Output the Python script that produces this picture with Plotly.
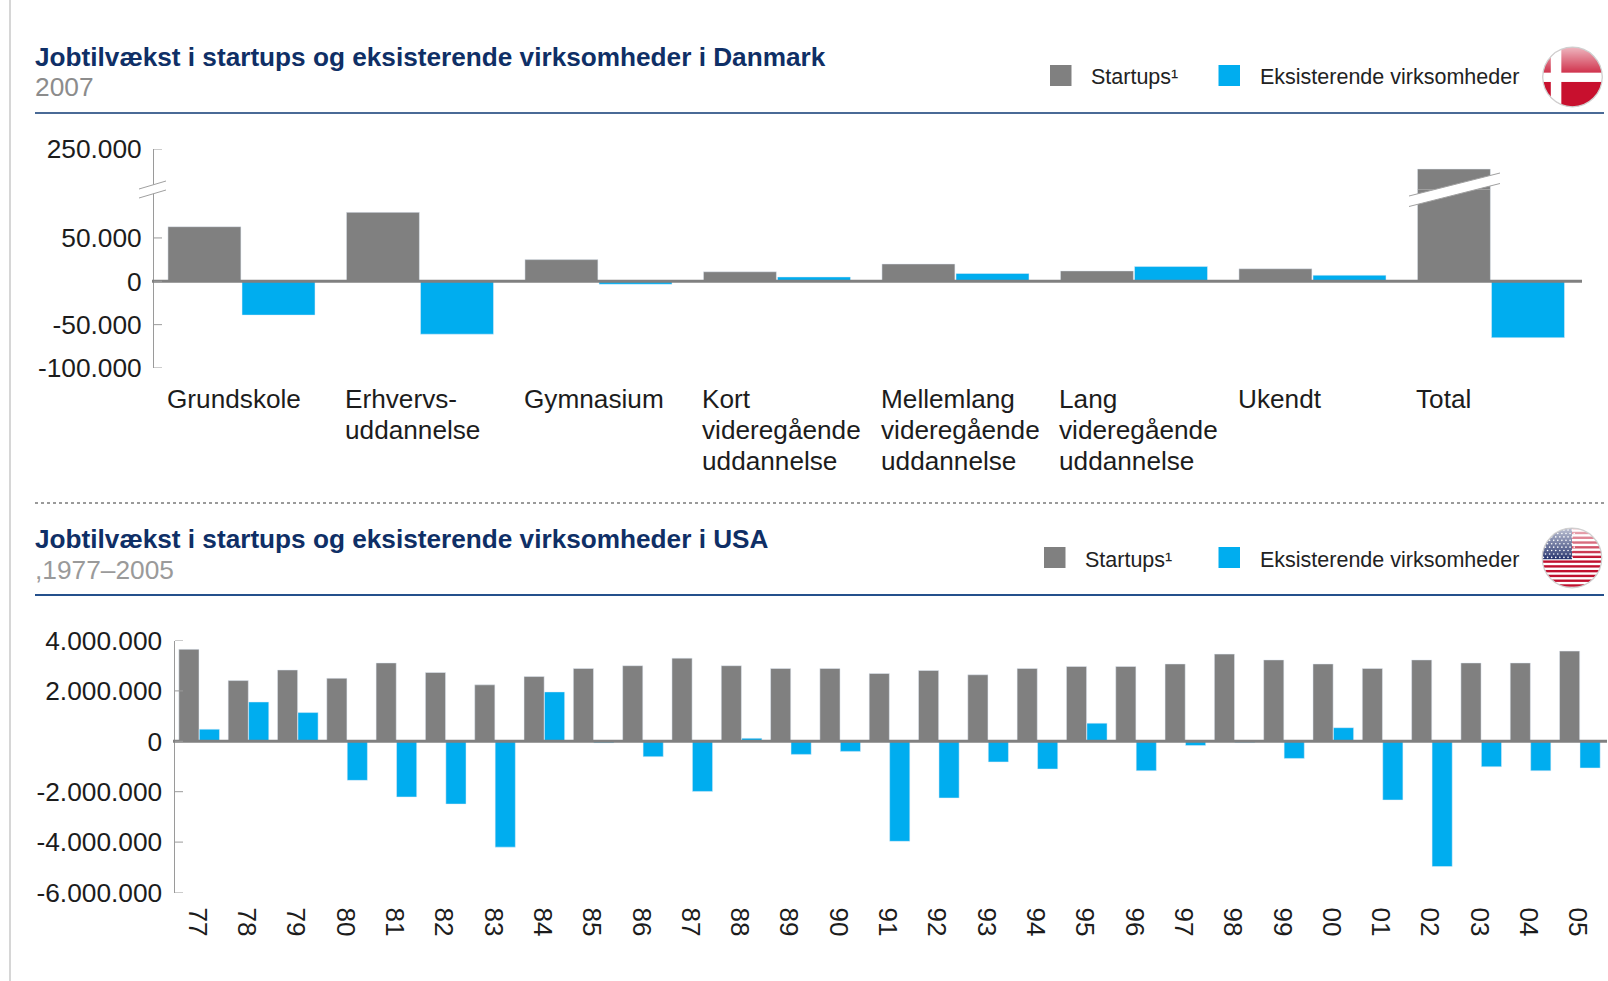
import base64
import plotly.graph_objects as go

# ---- data ----
dk_categories = ["Grundskole", "Erhvervs-", "Gymnasium", "Kort", "Mellemlang", "Lang", "Ukendt", "Total"]
dk_label_lines = [["Grundskole"], ["Erhvervs-", "uddannelse"], ["Gymnasium"],
                  ["Kort", "videregående", "uddannelse"], ["Mellemlang", "videregående", "uddannelse"],
                  ["Lang", "videregående", "uddannelse"], ["Ukendt"], ["Total"]]
dk_startups = [63000, 79500, 25000, 11000, 20000, 12000, 14500, 221000]
dk_existing = [-39000, -61000, -3500, 5000, 9000, 17000, 7000, -65000]
dk_low_ticks = [50000, 0, -50000, -100000]
dk_low_text = ["50.000", "0", "-50.000", "-100.000"]
dk_high_ticks = [250000]
dk_high_text = ["250.000"]

us_years = ["77", "78", "79", "80", "81", "82", "83", "84", "85", "86", "87", "88", "89", "90", "91",
            "92", "93", "94", "95", "96", "97", "98", "99", "00", "01", "02", "03", "04", "05"]
us_startups = [3650000, 2410000, 2830000, 2500000, 3110000, 2730000, 2240000, 2570000, 2890000, 3000000,
               3300000, 3000000, 2890000, 2890000, 2690000, 2810000, 2640000, 2890000, 2970000, 2970000,
               3070000, 3460000, 3230000, 3070000, 2890000, 3230000, 3110000, 3110000, 3580000]
us_existing = [480000, 1560000, 1140000, -1550000, -2210000, -2490000, -4200000, 1960000, -60000, -610000,
               -1990000, 120000, -520000, -400000, -3970000, -2250000, -820000, -1100000, 720000, -1170000,
               -170000, -50000, -680000, 540000, -2330000, -4970000, -1010000, -1170000, -1060000]
us_ticks = [4000000, 2000000, 0, -2000000, -4000000, -6000000]
us_tick_text = ["4.000.000", "2.000.000", "0", "-2.000.000", "-4.000.000", "-6.000.000"]

name_startups = "Startups"
name_existing = "Eksisterende virksomheder"
title_dk = "Jobtilvækst i startups og eksisterende virksomheder i Danmark"
sub_dk = "2007"
title_us = "Jobtilvækst i startups og eksisterende virksomheder i USA"
sub_us = ",1977–2005"

# ---- style / layout ----
W, H = 1608, 981
GREY, BLUE = "#808080", "#00ADEF"
AXIS = "#9a9a9a"
NAVY = "#0F2F66"
FONT = "Liberation Sans"
TICK = "#1c1c1c"


def px(x):
    return x / W


def py(y):
    return 1 - y / H


fig = go.Figure()
for ax_y in ("y", "y2"):
    fig.add_bar(x=dk_categories, y=dk_startups, name=name_startups, marker_color=GREY, xaxis="x", yaxis=ax_y, showlegend=False)
    fig.add_bar(x=dk_categories, y=dk_existing, name=name_existing, marker_color=BLUE, xaxis="x", yaxis=ax_y, showlegend=False)
fig.add_bar(x=us_years, y=us_startups, name=name_startups, marker_color=GREY, xaxis="x2", yaxis="y3", showlegend=False)
fig.add_bar(x=us_years, y=us_existing, name=name_existing, marker_color=BLUE, xaxis="x2", yaxis="y3", showlegend=False)

Y_TOP, Y_SPLIT, Y_BOT = 149.0, 189.5, 368.0
Y_ZERO = 281.3
low_per_px = 100000 / (Y_BOT - Y_ZERO)
high_per_px = 29000 / 20
low_range = [-100000, (Y_ZERO - Y_SPLIT) * low_per_px]
high_range = [250000 - (Y_SPLIT - Y_TOP) * high_per_px, 250000]

yax = dict(showgrid=False, zeroline=False, showline=True, linecolor=AXIS, linewidth=1, ticks="",
           tickmode="array", tickfont=dict(family=FONT, size=26.3, color=TICK), ticklabelstandoff=6)

fig.update_layout(
    width=W, height=H, margin=dict(l=0, r=0, t=0, b=0, autoexpand=False), paper_bgcolor="white", plot_bgcolor="white",
    barmode="group", bargap=0.17, bargroupgap=0.015, showlegend=False,
    font=dict(family=FONT, color=TICK),
    xaxis=dict(domain=[px(154), px(1582)], range=[-0.49, 7.51], type="category", categoryorder="array",
               categoryarray=dk_categories, showticklabels=False, ticks="", showgrid=False, zeroline=False,
               showline=False, anchor="y"),
    yaxis=dict(domain=[py(Y_BOT), py(Y_SPLIT)], range=low_range, tickvals=dk_low_ticks, ticktext=dk_low_text, anchor="x", **yax),
    yaxis2=dict(domain=[py(Y_SPLIT), py(Y_TOP)], range=high_range, tickvals=dk_high_ticks, ticktext=dk_high_text, anchor="x", **yax),
    xaxis2=dict(domain=[px(174.5), px(1604.5)], type="category", categoryorder="array", categoryarray=us_years,
                tickangle=90, ticks="", showgrid=False, zeroline=False, showline=False, anchor="y3",
                tickfont=dict(family=FONT, size=26, color=TICK), ticklabelstandoff=14, ticklabelshift=-2),
    yaxis3=dict(domain=[py(892.5), py(640.5)], range=[-6000000, 4000000], tickvals=us_ticks, ticktext=us_tick_text,
                anchor="x2", **yax),
)

shapes = []
annotations = []


def line(x0, y0, x1, y1, color, width, dash="solid"):
    shapes.append(dict(type="line", xref="paper", yref="paper", x0=px(x0), x1=px(x1), y0=py(y0), y1=py(y1),
                       line=dict(color=color, width=width, dash=dash), layer="above"))


def rect(x0, y0, x1, y1, color):
    shapes.append(dict(type="rect", xref="paper", yref="paper", x0=px(x0), x1=px(x1), y0=py(y0), y1=py(y1),
                       fillcolor=color, line=dict(width=0), layer="above"))


def text(x, y, s, size, color, bold=False):
    annotations.append(dict(xref="paper", yref="paper", x=px(x), y=py(y), text=f"<b>{s}</b>" if bold else s,
                            showarrow=False, xanchor="left", yanchor="middle", align="left", borderpad=0,
                            font=dict(family=FONT, size=size, color=color)))


def slash(x0, y0, x1, y1, gap):
    d = "M {} {} L {} {} L {} {} L {} {} Z".format(px(x0), py(y0), px(x1), py(y1), px(x1), py(y1 + gap), px(x0), py(y0 + gap))
    shapes.append(dict(type="path", xref="paper", yref="paper", path=d, fillcolor="white", line=dict(width=0), layer="above"))
    line(x0, y0, x1, y1, "#a0a0a0", 1)
    line(x0, y0 + gap, x1, y1 + gap, "#a0a0a0", 1)


# page furniture
line(10, 0, 10, H, "#c8c8c8", 1.5)
line(35, 113, 1604, 113, "#4a6a96", 2)
line(35, 595, 1604, 595, "#24508c", 2)
line(35, 503, 1604, 503, "#9a9a9a", 2, "dot")

# zero lines above the bars
shapes.append(dict(type="line", xref="paper", yref="y", x0=px(152), x1=px(1582), y0=0, y1=0,
                   line=dict(color=GREY, width=3), layer="above"))
shapes.append(dict(type="line", xref="paper", yref="y3", x0=px(173), x1=px(1607), y0=0, y1=0,
                   line=dict(color=GREY, width=3), layer="above"))

# y-axis tick marks pointing into the plot
for yref, vals, x0 in [("y", dk_low_ticks, 154), ("y2", dk_high_ticks, 154), ("y3", us_ticks, 175)]:
    for v in vals:
        shapes.append(dict(type="line", xref="paper", yref=yref, x0=px(x0), x1=px(x0 + 8), y0=v, y1=v,
                           line=dict(color=AXIS, width=1), layer="above"))

# axis and bar breaks
slash(139, 189, 166, 181, 9)
slash(1409, 196, 1500, 173, 10.5)

# titles
text(34, 57, title_dk, 26.2, NAVY, True)
text(34, 87, sub_dk, 26.3, "#8c8c8c")
text(34, 538.5, title_us, 26.2, NAVY, True)
text(34, 569.5, sub_us, 26.3, "#9a9a9a")

# legends
for gx, sx, bx, tx, top, ty in [(1050, 1090, 1218.5, 1258.5, 65, 77), (1044, 1084, 1218.5, 1258.5, 547, 560)]:
    rect(gx, top, gx + 21.5, top + 21, GREY)
    rect(bx, top, bx + 21.5, top + 21, BLUE)
    text(sx, ty, name_startups + "¹", 21.5, "#222222")
    text(tx, ty, name_existing, 21.5, "#222222")

# left-aligned category labels under the Danish bars
for cat, lines in zip(dk_categories, dk_label_lines):
    for n, s in enumerate(lines):
        annotations.append(dict(xref="x", yref="paper", x=cat, xshift=-75.5, y=py(399 + n * 30.8), text=s, showarrow=False,
                                xanchor="left", yanchor="middle", align="left", borderpad=0,
                                font=dict(family=FONT, size=26.2, color=TICK)))

gloss = ('<defs><clipPath id="c"><circle cx="50" cy="50" r="48"/></clipPath>'
         '<linearGradient id="g" x1="0" y1="0" x2="0" y2="1">'
         '<stop offset="0" stop-color="#fff" stop-opacity=".72"/><stop offset=".45" stop-color="#fff" stop-opacity=".12"/>'
         '<stop offset=".5" stop-color="#fff" stop-opacity="0"/></linearGradient></defs>')
overlay = ('<rect width="100" height="100" fill="url(#g)" clip-path="url(#c)"/>'
           '<circle cx="50" cy="50" r="48" fill="none" stroke="#d0d0d0" stroke-width="2"/>')
dk_svg = ('<svg xmlns="http://www.w3.org/2000/svg" viewBox="0 0 100 100">' + gloss +
          '<g clip-path="url(#c)"><rect width="100" height="100" fill="#C8102E"/>'
          '<rect x="15" width="17" height="100" fill="#fff"/><rect y="43" width="100" height="15" fill="#fff"/></g>' +
          overlay + '</svg>')
stripes = "".join(f'<rect y="{i * 7.7:.1f}" width="100" height="3.85" fill="#C0102E"/>' for i in range(13))
stars = "".join(f'<circle cx="{4 + c * 6.6 + (r % 2) * 3.3:.1f}" cy="{5 + r * 5.5:.1f}" r="1.3" fill="#fff"/>'
                for r in range(9) for c in range(8))
us_svg = ('<svg xmlns="http://www.w3.org/2000/svg" viewBox="0 0 100 100">' + gloss +
          '<g clip-path="url(#c)"><rect width="100" height="100" fill="#fff"/>' + stripes +
          '<rect width="50" height="52" fill="#27356F"/>' + stars + '</g>' + overlay + '</svg>')


def uri(svg):
    return "data:image/svg+xml;base64," + base64.b64encode(svg.encode()).decode()


images = [dict(source=uri(s), xref="paper", yref="paper", x=px(cx - 31), y=py(cy - 31), sizex=62 / W, sizey=62 / H,
               xanchor="left", yanchor="top", sizing="stretch", layer="above")
          for s, cx, cy in [(dk_svg, 1572.5, 77), (us_svg, 1572, 558)]]

fig.update_layout(shapes=shapes, annotations=annotations, images=images)
fig.write_html("out.html", config={"displayModeBar": False},
               post_script="document.body.style.margin='0';document.documentElement.style.overflow='hidden';")
